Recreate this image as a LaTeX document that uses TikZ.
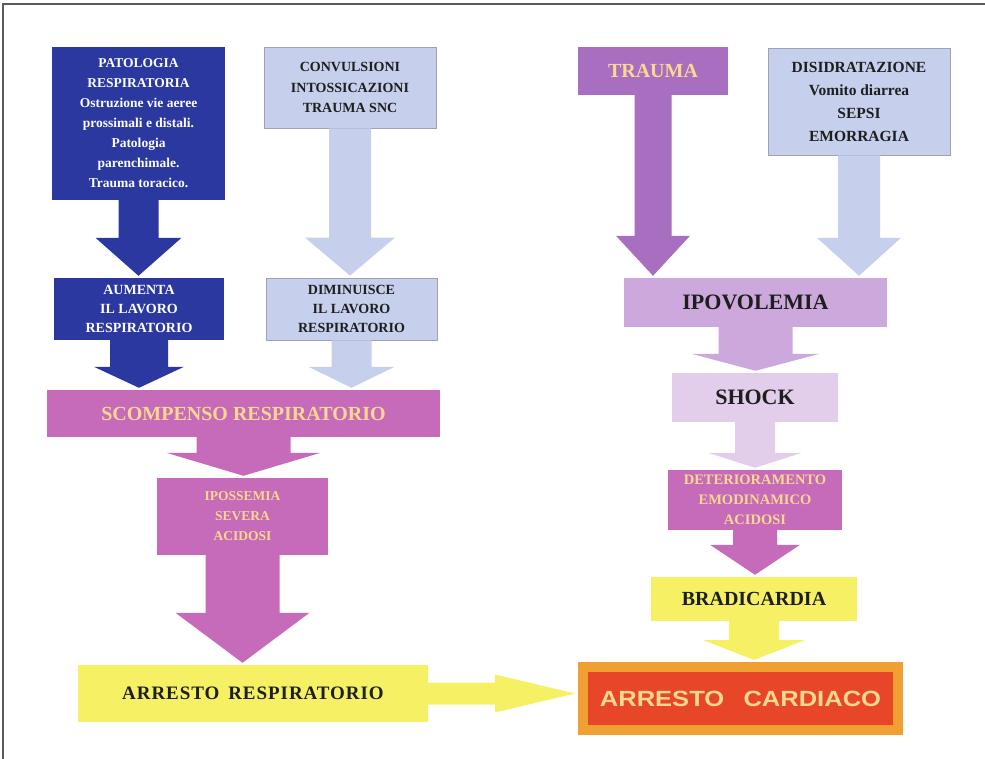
\documentclass[tikz,border=0pt]{standalone}
\usepackage{fontspec}
\setmainfont{Liberation Serif}
\newfontfamily\widesans[FakeStretch=1.16]{Liberation Sans}
\newfontfamily\spacedserif[LetterSpace=5]{Liberation Serif}
\usetikzlibrary{calc}

\definecolor{patblue}{RGB}{42,56,160}
\definecolor{paleblue}{RGB}{198,208,236}
\definecolor{paleedge}{RGB}{160,162,180}
\definecolor{mauve}{RGB}{197,107,185}
\definecolor{violet}{RGB}{168,110,192}
\definecolor{lilac}{RGB}{204,168,220}
\definecolor{lilacpale}{RGB}{226,206,234}
\definecolor{lemon}{RGB}{245,240,100}
\definecolor{alarmred}{RGB}{232,70,40}
\definecolor{alarmedge}{RGB}{240,160,50}
\definecolor{apricot}{RGB}{250,216,145}
\definecolor{inkdark}{RGB}{30,30,30}
\definecolor{framegray}{RGB}{90,90,90}

\tikzset{
  box/.style={rectangle, inner sep=2pt, align=center},
  darkbox/.style={box, fill=patblue, text=white},
  palebox/.style={box, fill=paleblue, draw=paleedge, line width=0.8pt, text=inkdark},
  mauvebox/.style={box, fill=mauve, text=apricot},
  lemonbox/.style={box, fill=lemon, text=inkdark},
  frameline/.style={draw=framegray, line width=1.5pt}
}

% block arrow downwards: colour, from, to, shaft half, head half, head length
\newcommand{\arrowdown}[6]{%
  \fill[#1] let \p1=(#2.south), \p2=(#3.north) in
    (\x1-#4pt,\y1) -- (\x1-#4pt,\y2+#6pt+2pt) -- (\x1-#5pt,\y2+#6pt+2pt) -- (\x1,\y2+2pt)
    -- (\x1+#5pt,\y2+#6pt+2pt) -- (\x1+#4pt,\y2+#6pt+2pt) -- (\x1+#4pt,\y1) -- cycle;}
% block arrow to the right
\newcommand{\arrowright}[6]{%
  \fill[#1] let \p1=(#2.east), \p2=(#3.west) in
    (\x1,\y1+#4pt) -- (\x2-#6pt-3pt,\y1+#4pt) -- (\x2-#6pt-3pt,\y1+#5pt) -- (\x2-3pt,\y1)
    -- (\x2-#6pt-3pt,\y1-#5pt) -- (\x2-#6pt-3pt,\y1-#4pt) -- (\x1,\y1-#4pt) -- cycle;}

\begin{document}
\begin{tikzpicture}[x=1pt,y=-1pt]
\useasboundingbox (0,0) rectangle (985,759);
\draw[frameline] (3,759) -- (3,4) -- (985,4);

% respiratory side
\node[darkbox, minimum width=173pt, minimum height=153pt,
      font=\bfseries\fontsize{13.5}{20}\selectfont] (patresp) at (138.5,123.5)
      {PATOLOGIA\\RESPIRATORIA\\Ostruzione vie aeree\\prossimali e distali.\\Patologia\\parenchimale.\\Trauma toracico.};
\node[palebox, minimum width=172pt, minimum height=81pt,
      font=\bfseries\fontsize{14}{20.5}\selectfont] (convuls) at (350,87.5)
      {CONVULSIONI\\INTOSSICAZIONI\\TRAUMA SNC};
\node[darkbox, minimum width=170pt, minimum height=62pt,
      font=\bfseries\fontsize{14}{19}\selectfont] (aumenta) at (139,309)
      {AUMENTA\\IL LAVORO\\RESPIRATORIO};
\node[palebox, minimum width=171pt, minimum height=62pt,
      font=\bfseries\fontsize{14}{19}\selectfont] (diminuisce) at (351.5,309)
      {DIMINUISCE\\IL LAVORO\\RESPIRATORIO};
\node[mauvebox, minimum width=393pt, minimum height=47pt,
      font=\bfseries\fontsize{20}{24}\selectfont] (scompenso) at (243.5,413.5)
      {SCOMPENSO RESPIRATORIO};
\node[mauvebox, minimum width=171pt, minimum height=77pt,
      font=\bfseries\fontsize{13.5}{20}\selectfont] (ipossemia) at (242.5,516.5)
      {IPOSSEMIA\\SEVERA\\ACIDOSI};
\node[lemonbox, minimum width=350pt, minimum height=57pt,
      font=\spacedserif\bfseries\fontsize{19}{23}\selectfont] (arrresp) at (253,693.5)
      {ARRESTO\, RESPIRATORIO};

% circulatory side
\node[box, fill=violet, text=apricot, minimum width=150pt, minimum height=48pt,
      font=\bfseries\fontsize{20}{24}\selectfont] (trauma) at (653,71) {TRAUMA};
\node[palebox, minimum width=182pt, minimum height=107pt,
      font=\bfseries\fontsize{15.5}{23}\selectfont] (disidrat) at (859,101.5)
      {DISIDRATAZIONE\\Vomito diarrea\\SEPSI\\EMORRAGIA};
\node[box, fill=lilac, text=inkdark, minimum width=263pt, minimum height=49pt,
      font=\bfseries\fontsize{22}{26}\selectfont] (ipovol) at (755.5,302.5) {IPOVOLEMIA};
\node[box, fill=lilacpale, text=inkdark, minimum width=166pt, minimum height=49pt,
      font=\bfseries\fontsize{22}{26}\selectfont] (shock) at (755,397.5) {SHOCK};
\node[mauvebox, minimum width=174pt, minimum height=60pt,
      font=\bfseries\fontsize{14.5}{20}\selectfont] (deterior) at (755,500)
      {DETERIORAMENTO\\EMODINAMICO\\ACIDOSI};
\node[lemonbox, minimum width=206pt, minimum height=44pt,
      font=\bfseries\fontsize{20}{24}\selectfont] (bradi) at (754,599) {BRADICARDIA};
\node[box, fill=alarmred, draw=alarmedge, line width=10pt, text=apricot,
      minimum width=315pt, minimum height=63pt,
      font=\widesans\bfseries\fontsize{22}{26}\selectfont] (arrcard) at (740.5,698.5)
      {ARRESTO\;\; CARDIACO};

% arrows
\arrowdown{patblue}{patresp}{aumenta}{20}{43}{38}
\arrowdown{patblue}{aumenta}{scompenso}{29}{45}{21}
\arrowdown{paleblue}{convuls}{diminuisce}{21}{45}{38}
\arrowdown{paleblue}{diminuisce}{scompenso}{20}{43}{21}
\arrowdown{mauve}{scompenso}{ipossemia}{47}{77}{23}
\arrowdown{mauve}{ipossemia}{arrresp}{37}{67}{50}
\arrowdown{violet}{trauma}{ipovol}{18.5}{37}{40}
\arrowdown{paleblue}{disidrat}{ipovol}{21}{42}{38}
\arrowdown{lilac}{ipovol}{shock}{37}{64}{17}
\arrowdown{lilacpale}{shock}{deterior}{20}{47}{15}
\arrowdown{mauve}{deterior}{bradi}{22}{45}{30}
\arrowdown{lemon}{bradi}{arrcard}{25}{51}{20}
\arrowright{lemon}{arrresp}{arrcard}{11}{19}{80}
\end{tikzpicture}
\end{document}
